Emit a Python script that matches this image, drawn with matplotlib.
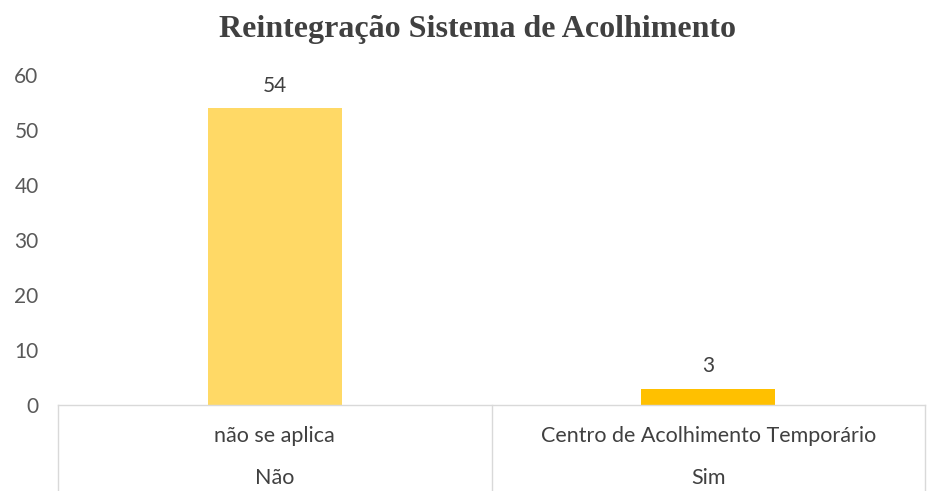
import matplotlib.pyplot as plt

# Data
categories = ['não se aplica', 'Centro de Acolhimento Temporário']
groups = ['Não', 'Sim']
values = [54, 3]
bar_colors = ['#FFD966', '#FFC000']

fig = plt.figure(figsize=(9.31, 4.91), dpi=100)
ax = fig.add_axes([58 / 931, 1 - 405 / 491, (925 - 58) / 931, (405 - 75) / 491])

x = list(range(len(values)))
bars = ax.bar(x, values, width=0.31, color=bar_colors, zorder=2)

ax.set_xlim(-0.5, len(values) - 0.5)
ax.set_ylim(0, 60)
ax.set_yticks(range(0, 61, 10))

# value labels
for xi, v in zip(x, values):
    ax.text(xi, v + 2.2, str(v), ha='center', va='bottom', fontsize=15,
            color='#404040', family='Lato')

# spines / ticks
for s in ['left', 'top', 'right']:
    ax.spines[s].set_visible(False)
ax.spines['bottom'].set_color('#D9D9D9')
ax.spines['bottom'].set_linewidth(1)
ax.set_xticks([])
ax.tick_params(axis='y', length=0, pad=14, labelsize=15, labelcolor='#595959')
for lab in ax.get_yticklabels():
    lab.set_family('Lato')

# multi-level category table below the axis
trans = ax.get_xaxis_transform()
for xv in [-0.5 + i for i in range(len(values) + 1)]:
    ax.plot([xv, xv], [0, -0.27], color='#D9D9D9', lw=1, transform=trans, clip_on=False)
for xi, cat, grp in zip(x, categories, groups):
    ax.text(xi, -0.095, cat, ha='center', va='center', transform=trans,
            fontsize=15.5, color='#404040', family='Lato')
    ax.text(xi, -0.22, grp, ha='center', va='center', transform=trans,
            fontsize=15.5, color='#404040', family='Lato')

fig.text(477 / 931, 1 - 30 / 491, 'Reintegração Sistema de Acolhimento', ha='center', va='center',
         fontsize=23, fontweight='bold', color='#404040', family='Liberation Serif')

fig.savefig('out.png', dpi=100, facecolor='white')
